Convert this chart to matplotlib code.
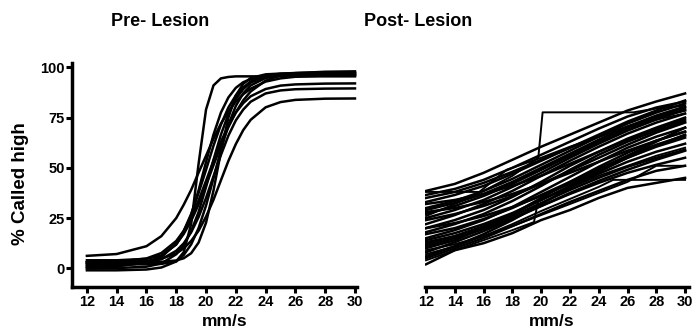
import matplotlib
matplotlib.use('Agg')
import matplotlib.pyplot as plt

plt.rcParams['font.family'] = ['Liberation Sans', 'DejaVu Sans']
plt.rcParams['font.weight'] = 'bold'

pre_x = [12, 14, 16, 17, 18, 18.5, 19, 19.5, 20, 20.5, 21, 21.5, 22, 22.5, 23, 24, 25, 26, 28, 30]
pre_curves = [
    [2, 2, 2, 2.2, 3.5, 8, 22, 52, 79, 91, 94.5, 95.2, 95.5, 95.5, 95.5, 95.5, 95.5, 95.5, 95.5, 95.5],
    [6.2, 7.1, 11, 16, 25, 31.6, 39, 47.6, 56, 64.5, 72, 78, 83, 86.6, 89.4, 92.9, 94.5, 95.3, 95.9, 96],
    [1, 1.2, 2.7, 5.5, 12.5, 18.6, 27, 37.5, 49, 61, 71.5, 80, 86, 90, 93, 95.8, 96.8, 97.2, 97.5, 97.5],
    [0, 0.1, 0.8, 2.4, 7, 11.5, 18.5, 28, 40.5, 54, 66.5, 76.7, 84.3, 89.2, 92.4, 95.4, 96.5, 96.8, 97, 97],
    [-1, -1, -0.6, 0.4, 3.4, 6.6, 11.9, 20, 31.2, 44.8, 59, 71.4, 80.8, 87.1, 91, 94.7, 96, 96.3, 96.5, 96.5],
    [3, 3.3, 4.9, 7.6, 13.6, 18.6, 25.4, 33.8, 43.5, 53.5, 63, 71, 77.5, 82.2, 85.6, 89.2, 90.9, 91.5, 91.9, 92],
    [2, 2.1, 3, 4.5, 8.7, 12.4, 17.9, 25.5, 35, 45.8, 56.4, 66, 73.6, 79, 82.9, 87, 88.5, 89.1, 89.4, 89.5],
    [3, 3.1, 3.7, 4.8, 7.4, 9.9, 13.6, 18.7, 25.7, 34.1, 43.8, 53.4, 61.8, 68.8, 73.9, 80.1, 82.7, 83.8, 84.4, 84.5],
    [3, 3, 3, 3.2, 3.9, 5, 7.5, 12.8, 22.7, 38.7, 58, 75, 86, 91.8, 94.7, 96.5, 96.9, 97, 97, 97],
    [4, 4, 4.7, 6.4, 11.8, 17.6, 26.5, 38.8, 52.9, 66.5, 77.5, 85, 89.8, 92.6, 94.1, 95.4, 95.8, 95.9, 96, 96],
    [0.5, 1, 2.9, 6, 12.1, 17.1, 23.6, 31.8, 41.3, 51.3, 61.1, 70.2, 77.6, 83.6, 88, 93.4, 96, 97.1, 97.8, 98],
]

post_x = [12, 14, 16, 18, 20, 22, 24, 26, 28, 30]
post_curves = [
    [38.5, 42, 47.5, 54, 60.5, 66.5, 72.5, 78.5, 83, 87],
    [2, 9, 12.5, 17.5, 24, 29, 35, 40, 42.5, 45],
    [5, 10, 15, 21, 27, 33, 38.5, 44, 48.5, 51],
    [8, 13, 18.5, 24.5, 31, 37.5, 43.5, 49, 54, 58.5],
    [12, 16, 21, 27, 34, 41, 48, 55, 60.5, 65],
    [15, 19, 24, 30.5, 38, 45.5, 53, 60, 65.5, 70],
    [18, 22, 27, 33.5, 41, 49, 56.5, 63, 68.5, 73],
    [20, 24, 29, 35.5, 43, 51, 58, 64.5, 70, 75],
    [22, 26.5, 32, 38.5, 46, 53.5, 60.5, 67, 72.5, 77],
    [25, 29, 34, 40.5, 47.5, 55, 62, 68.5, 74, 79],
    [27, 31, 36, 42, 49, 56, 63, 69.5, 75, 80],
    [30, 33.5, 38.5, 44.5, 51.5, 58.5, 65.5, 72, 77.5, 82],
    [33, 36.5, 41, 47, 53.5, 60, 66.5, 73, 78.5, 83.5],
    [35, 38, 42.5, 48, 54, 60, 65.5, 70.5, 75, 78.5],
    [10, 14, 20, 27, 35, 43, 50.5, 57.5, 63.5, 68],
    [28, 30, 33, 37, 42, 47.5, 53, 58.5, 63.5, 68],
    [14, 17.5, 22, 27.5, 34, 40.5, 47, 53, 58, 62],
    [32, 34, 37, 41, 46, 52, 58, 64, 69.5, 74],
    [6, 11, 17, 24, 32, 40, 48, 56, 63, 70],
    [24, 27, 31, 36, 42, 48.5, 55, 61.5, 67.5, 72.5],
    [17, 20, 24.5, 30, 36.5, 43, 49.5, 56, 61.5, 66],
    [36.5, 39.5, 44, 50, 56.5, 63, 69.5, 75.5, 80, 83],
    [20, 22.5, 26, 30.5, 36, 42, 48.5, 55, 61, 66.5],
    [29, 32.5, 37, 43, 50, 57, 64, 70.5, 76, 80.5],
    [13, 16, 20.5, 26, 32.5, 39, 45, 50.5, 55, 59],
    [11, 15, 19.5, 25, 31, 37, 42.5, 47.5, 51.5, 55],
]

# a few post-lesion curves with jumps / plateaus
step_x = [12, 14, 16, 18, 19.8, 20.1, 26.4, 28, 30]
step_y = [26, 32, 38.5, 46, 55, 77.6, 77.6, 79.5, 81]
flat_x = [12, 15.7, 17.6, 20, 22, 24, 26, 28, 30]
flat_y = [38, 38, 49, 55, 60.5, 65.5, 70, 74, 77]
plateau_x = [12, 14, 16, 18, 20, 22, 24, 25, 30]
plateau_y = [7, 11, 16, 22, 28.5, 34.5, 40.5, 44, 44]
jump_x = [12, 14, 16, 18, 19.5, 19.8, 22, 24, 26, 28, 30]
jump_y = [4, 9, 14, 19, 23, 34, 40, 46, 51, 56, 60]
late_x = [12, 14, 16, 18, 20, 22, 24, 26, 28, 30]
late_y = [9, 12, 16, 21, 26.5, 32, 37.5, 43, 51, 51]

fig = plt.figure(figsize=(6.99, 3.32), dpi=100)
W, H = 699, 332

ax1 = fig.add_axes([72 / W, 45 / H, 285.2 / W, 223.7 / H])
ax2 = fig.add_axes([424.6 / W, 45 / H, 264.8 / W, 223.7 / H])

for c in pre_curves:
    ax1.plot(pre_x, c, color='black', lw=1.8)

for c in post_curves:
    ax2.plot(post_x, c, color='black', lw=1.8)
for xs, ys in [(step_x, step_y), (flat_x, flat_y), (plateau_x, plateau_y),
               (jump_x, jump_y), (late_x, late_y)]:
    ax2.plot(xs, ys, color='black', lw=1.4)

for ax in (ax1, ax2):
    ax.set_xlim(11 if ax is ax1 else 11.9, 30.15 if ax is ax1 else 30.3)
    ax.set_ylim(-9.3, 102)
    ax.set_xticks(range(12, 31, 2))
    for s in ('top', 'right'):
        ax.spines[s].set_visible(False)
    ax.spines['bottom'].set_linewidth(2.5)
    ax.tick_params(axis='x', direction='out', length=4, width=2.2, pad=2,
                   labelsize=10.5)
    for lab in ax.get_xticklabels():
        lab.set_fontweight('heavy')

ax1.spines['left'].set_linewidth(2.5)
ax1.set_yticks([0, 25, 50, 75, 100])
ax1.tick_params(axis='y', direction='out', length=4, width=2.2, pad=1, labelsize=10.5)
for lab in ax1.get_yticklabels():
    lab.set_fontweight('heavy')

ax2.spines['left'].set_visible(False)
ax2.set_yticks([])

fig.text(160 / W, 1 - 22 / H, 'Pre- Lesion', ha='center', va='center',
         fontsize=13, fontweight='bold')
fig.text(418 / W, 1 - 22 / H, 'Post- Lesion', ha='center', va='center',
         fontsize=13, fontweight='bold')
fig.text(21 / W, 1 - 184 / H, '% Called high', rotation=90, ha='center',
         va='center', fontsize=13.5, fontweight='bold')
fig.text(225 / W, 1 - 321 / H, 'mm/s', ha='center', va='center',
         fontsize=12.5, fontweight='bold')
fig.text(552 / W, 1 - 321 / H, 'mm/s', ha='center', va='center',
         fontsize=12.5, fontweight='bold')

fig.savefig('out.png', dpi=100)
